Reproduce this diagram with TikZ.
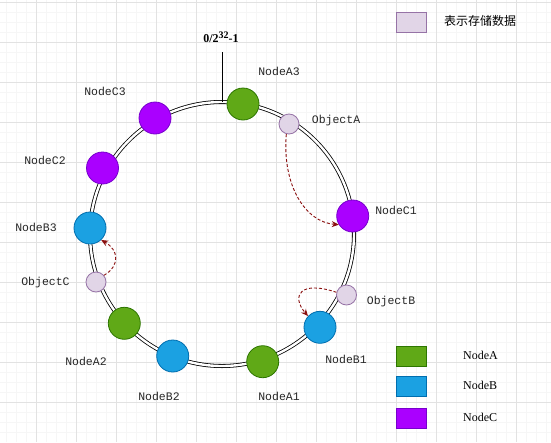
\documentclass[tikz,border=0pt]{standalone}
\usepackage{fontspec}
\setmainfont{Liberation Serif}
\newfontfamily\labelmono{Liberation Mono}
\newfontfamily\cjkfont{Noto Sans CJK SC}
\usetikzlibrary{arrows.meta}
\definecolor{gA}{HTML}{60A917}\definecolor{gAs}{HTML}{2D7600}
\definecolor{bB}{HTML}{1BA1E2}\definecolor{bBs}{HTML}{006EAF}
\definecolor{pC}{HTML}{AA00FF}\definecolor{pCs}{HTML}{7700CC}
\definecolor{objf}{HTML}{E1D5E7}\definecolor{objs}{HTML}{9673A6}
\definecolor{arr}{HTML}{8A0F0F}
\definecolor{gminor}{HTML}{F6F6F6}\definecolor{gmajor}{HTML}{E2E2E2}
\tikzset{
  nodeA/.style={circle,fill=gA,draw=gAs,line width=0.8pt,minimum size=32pt,inner sep=0pt},
  nodeB/.style={circle,fill=bB,draw=bBs,line width=0.8pt,minimum size=32pt,inner sep=0pt},
  nodeC/.style={circle,fill=pC,draw=pCs,line width=0.8pt,minimum size=32pt,inner sep=0pt},
  objnode/.style={circle,fill=objf,draw=objs,line width=0.8pt,minimum size=20pt,inner sep=0pt},
  lbl/.style={font=\labelmono\fontsize{11.5}{13}\selectfont,text=black!85,inner sep=0pt,text height=8pt,text depth=2pt},
  legtxt/.style={font=\fontsize{12}{14}\selectfont,inner sep=0pt,anchor=west,text height=8.5pt,text depth=2.5pt},
  legbox/.style={minimum width=30pt,minimum height=20pt,inner sep=0pt,line width=0.8pt},
  objarrow/.style={draw=arr,dashed,line width=0.9pt,dash pattern=on 3pt off 2pt,-{Stealth[length=7pt,width=6pt]}},
  ring/.style={double=white,double distance=2.4pt,line width=0.8pt,draw=black}
}
\begin{document}
\begin{tikzpicture}[x=1pt,y=-1pt]
\useasboundingbox (0,0) rectangle (551,442);
\fill[white] (0,0) rectangle (551,442);
% grid
\foreach \x in {6,16,...,546} \draw[gminor,line width=0.5pt] (\x,0) -- (\x,442);
\foreach \y in {2.7,12.7,...,442} \draw[gminor,line width=0.5pt] (0,\y) -- (551,\y);
\foreach \x in {36,76,...,546} \draw[gmajor,line width=0.6pt] (\x,0) -- (\x,442);
\foreach \y in {2.7,42.7,...,442} \draw[gmajor,line width=0.6pt] (0,\y) -- (551,\y);
% ring
\draw[ring] (222,234) circle[radius=132pt];
\coordinate (top) at (222,52);
\coordinate (ringtop) at (222,102);
\draw[line width=0.9pt] (top) -- (ringtop);
\node[inner sep=0pt,font=\bfseries\fontsize{12}{14}\selectfont] (maxlbl) at (221,37) {0/2\raisebox{4.5pt}{\fontsize{10}{12}\selectfont\bfseries 32}-1};
% nodes
\node[nodeA] (A3) at (243,104) {};
\node[nodeC] (C3) at (155,118) {};
\node[nodeC] (C2) at (102.5,168) {};
\node[nodeB] (B3) at (90,228) {};
\node[objnode] (OC) at (96,282) {};
\node[nodeA] (A2) at (124.3,323.3) {};
\node[nodeB] (B2) at (172.7,356) {};
\node[nodeA] (A1) at (262.7,361.7) {};
\node[nodeB] (B1) at (320,327.3) {};
\node[objnode] (OB) at (346.5,295) {};
\node[nodeC] (C1) at (352.7,216) {};
\node[objnode] (OA) at (289,124) {};
% labels
\node[lbl] (lA3) at (279,72) {NodeA3};
\node[lbl] (lC3) at (105,92) {NodeC3};
\node[lbl] (lC2) at (45,161) {NodeC2};
\node[lbl] (lB3) at (36,228) {NodeB3};
\node[lbl] (lOC) at (45.5,282) {ObjectC};
\node[lbl] (lA2) at (86,362) {NodeA2};
\node[lbl] (lB2) at (159,397) {NodeB2};
\node[lbl] (lA1) at (279,397) {NodeA1};
\node[lbl] (lB1) at (346,360) {NodeB1};
\node[lbl] (lOB) at (391,301) {ObjectB};
\node[lbl] (lC1) at (396,211) {NodeC1};
\node[lbl] (lOA) at (336,120) {ObjectA};
% arrows
\draw[objarrow] (OA.255) .. controls (282,185) and (305,222) .. (C1.212);
\draw[objarrow] (OB.165) .. controls (300,280) and (291,296) .. (B1.137);
\draw[objarrow] (OC.40) .. controls (120,266) and (119,250) .. (B3.-47);
% legend
\node[legbox,fill=objf,draw=objs] (legO) at (411,22) {};
\node[legtxt,font=\cjkfont\fontsize{12}{14}\selectfont] (legOt) at (444,22) {表示存储数据};
\node[legbox,fill=gA,draw=gAs] (legA) at (411,356) {};
\node[legtxt] (legAt) at (463,356) {NodeA};
\node[legbox,fill=bB,draw=bBs] (legB) at (411,386) {};
\node[legtxt] (legBt) at (463,386) {NodeB};
\node[legbox,fill=pC,draw=pCs] (legC) at (411,418) {};
\node[legtxt] (legCt) at (463,418) {NodeC};
\end{tikzpicture}
\end{document}
